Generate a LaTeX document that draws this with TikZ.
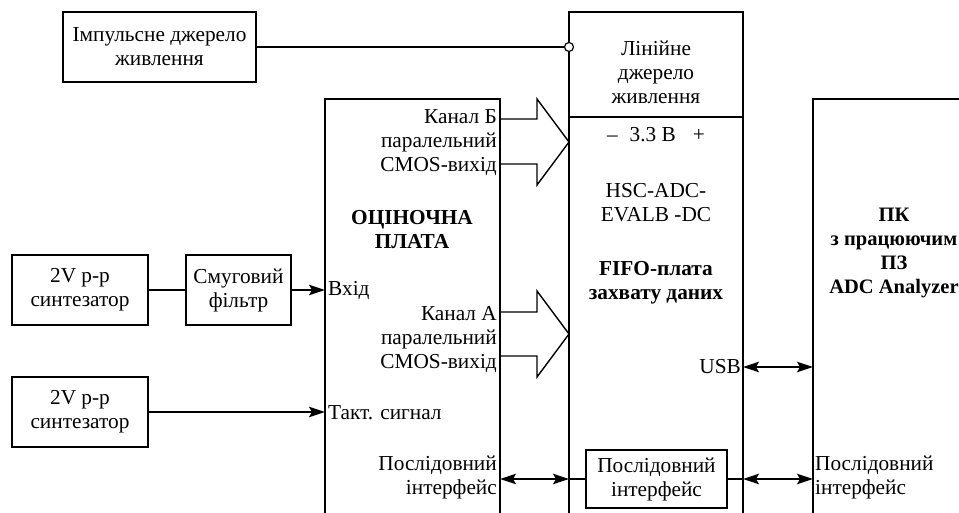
\documentclass[tikz,border=0pt]{standalone}
\usepackage{fontspec}
\setmainfont{Liberation Serif}
\usetikzlibrary{arrows.meta}
\begin{document}
\begin{tikzpicture}[x=1pt,y=-1pt,
  every node/.style={font=\fontsize{21.3}{24}\selectfont, inner sep=0pt},
  box/.style={draw, line width=1.4pt, align=center},
  wire/.style={line width=1.4pt},
  tip/.tip={Stealth[length=16pt,width=10.5pt,inset=3pt]},
  arr/.style={wire, -tip},
  darr/.style={wire, tip-tip},
  lbl/.style={align=right},
  bold/.style={font=\fontsize{21.3}{24}\selectfont\bfseries, align=center}
]
\useasboundingbox (0,0) rectangle (959,513);
% coordinates of the open boards
\coordinate (bdL) at (325,99);
\coordinate (bdR) at (500,99);
\coordinate (ffL) at (569,12);
\coordinate (ffR) at (743,12);
\coordinate (pcL) at (813,99);
\coordinate (pcE) at (959,99);

% boards
\draw[wire] (325,513) -- (bdL) -- (bdR) -- (500,513);
\draw[wire] (569,513) -- (ffL) -- (ffR) -- (743,513);
\draw[wire] (569,117) -- (743,117);
\draw[wire] (813,513) -- (pcL) -- (pcE);

% left blocks
\node[box, minimum width=193pt, minimum height=70pt] (imp) at (159.5,47) {Імпульсне джерело\\живлення};
\node[box, minimum width=136pt, minimum height=70pt] (syn1) at (80,290) {2V p-p\\синтезатор};
\node[box, minimum width=105pt, minimum height=70pt] (filt) at (238.5,290) {Смуговий\\фільтр};
\node[box, minimum width=136pt, minimum height=70pt] (syn2) at (80,412) {2V p-p\\синтезатор};

% power connection
\node[circle, draw, fill=white, minimum size=9pt, line width=1.2pt] (circ) at (569,47) {};
\draw[wire] (imp.east) -- (circ.west);

% input connections
\draw[wire] (syn1.east) -- (filt.west);
\draw[arr] (filt.east) -- (filt.east -| bdL);
\draw[arr] (syn2.east) -- (syn2.east -| bdL);

% board labels
\node[anchor=west] (vhid) at (328,291) {Вхід};
\node[anchor=west] (takt) at (328,413) {Такт. сигнал};
\node[bold] (otsin) at (412,230) {ОЦІНОЧНА\\ПЛАТА};
\node[lbl, anchor=east] (chB) at (497,143) {Канал Б\\паралельний\\CMOS-вихід};
\node[lbl, anchor=east] (chA) at (497,340) {Канал А\\паралельний\\CMOS-вихід};
\node[lbl, anchor=east] (serL) at (497,477) {Послідовний\\інтерфейс};

% hollow bus arrows
\draw[wire, line join=miter] (500,119) -- (537,119) -- (537,99) -- (569,142) -- (537,185) -- (537,164) -- (500,164);
\draw[wire, line join=miter] (500,312) -- (537,312) -- (537,291) -- (569,334) -- (537,377) -- (537,356) -- (500,356);

% FIFO texts
\node[align=center] (lin) at (656,72) {Лінійне\\джерело\\живлення};
\node (volt) at (656,135) {–\hspace{12pt}3.3 В\hspace{17pt}+};
\node[align=center] (hsc) at (656,203) {HSC-ADC-\\EVALB -DC};
\node[bold] (fifo) at (656,283) {FIFO-плата\\захвату даних};
\node[anchor=east] (usb) at (741,367) {USB};
\node[box, minimum width=141pt, minimum height=58pt] (ser) at (656.5,479) {Послідовний\\інтерфейс};
\draw[wire] (ser.west -| ffL) -- (ser.west);
\draw[wire] (ser.east) -- (ser.east -| ffR);

% PC texts
\node[bold, font=\fontsize{20.5}{24}\selectfont\bfseries] (pc) at (894,253) {ПК\\з працюючим\\ПЗ\\ADC Analyzer};
\node[align=left, anchor=west] (serR) at (815,477) {Послідовний\\інтерфейс};

% double arrows
\draw[darr] (ser.west -| bdR) -- (ser.west -| ffL);
\draw[darr] (usb.east -| ffR) -- (usb.east -| pcL);
\draw[darr] (ser.east -| ffR) -- (ser.east -| pcL);
\end{tikzpicture}
\end{document}
